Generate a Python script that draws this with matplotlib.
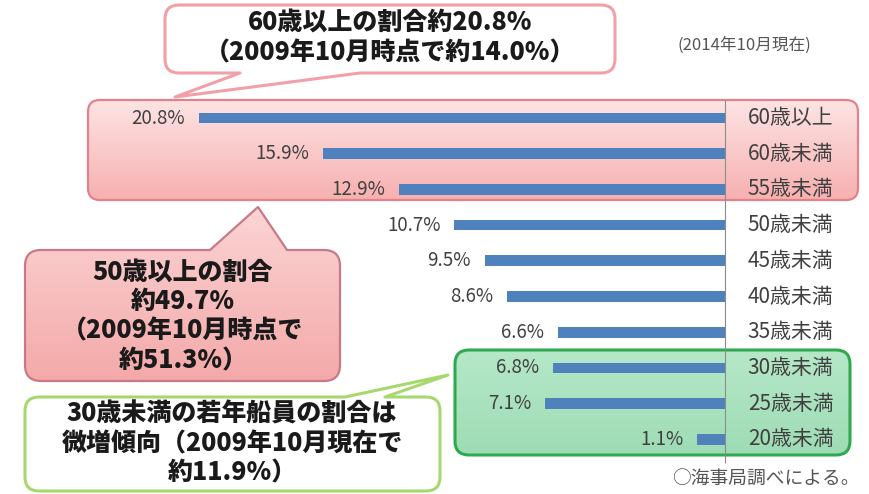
import numpy as np
import matplotlib
matplotlib.use("Agg")
import matplotlib.pyplot as plt
from matplotlib.path import Path
from matplotlib.patches import PathPatch
from matplotlib.colors import LinearSegmentedColormap

plt.rcParams['font.family'] = ['Noto Sans CJK JP', 'DejaVu Sans']

# data: share of seafarers by age group (2014年10月現在)
ages = ['60歳以上', '60歳未満', '55歳未満', '50歳未満', '45歳未満',
        '40歳未満', '35歳未満', '30歳未満', '25歳未満', '20歳未満']
shares = [20.8, 15.9, 12.9, 10.7, 9.5, 8.6, 6.6, 6.8, 7.1, 1.1]

W, H = 870, 494
fig = plt.figure(figsize=(8.7, 4.94), dpi=100)

# background layer in pixel coordinates for the boxes / callouts
bg = fig.add_axes([0, 0, 1, 1])
bg.set_xlim(0, W)
bg.set_ylim(H, 0)
bg.axis('off')


def bubble_path(x0, y0, x1, y1, r, tail=None, side='top'):
    """rounded rectangle, optionally with a speech tail on top or bottom edge"""
    M, L, C, Z = Path.MOVETO, Path.LINETO, Path.CURVE3, Path.CLOSEPOLY
    v = [(x0 + r, y0)]
    c = [M]
    if tail and side == 'top':
        v += tail
        c += [L] * len(tail)
    v += [(x1 - r, y0), (x1, y0), (x1, y0 + r), (x1, y1 - r), (x1, y1), (x1 - r, y1)]
    c += [L, C, C, L, C, C]
    if tail and side == 'bottom':
        v += tail
        c += [L] * len(tail)
    v += [(x0 + r, y1), (x0, y1), (x0, y1 - r), (x0, y0 + r), (x0, y0), (x0 + r, y0), (x0 + r, y0)]
    c += [L, C, C, L, C, C, Z]
    return Path(v, c)


def draw_bubble(path, face, edge, lw, grad=None, z=1):
    patch = PathPatch(path, fc=face, ec='none', zorder=z)
    bg.add_patch(patch)
    if grad is not None:
        ext = path.get_extents()
        cmap = LinearSegmentedColormap.from_list('g', grad)
        img = bg.imshow(np.linspace(0, 1, 100).reshape(-1, 1), cmap=cmap, aspect='auto',
                        extent=[ext.x0, ext.x1, ext.y1, ext.y0], zorder=z + 0.1,
                        interpolation='bilinear')
        img.set_clip_path(patch)
    bg.add_patch(PathPatch(path, fc='none', ec=edge, lw=lw, zorder=z + 0.2, joinstyle='round'))


# pink highlight band (50歳以上) and green band (30歳未満)
draw_bubble(bubble_path(88, 100, 858, 200, 12), '#fbcaca', '#e4818b', 1.6,
            grad=['#fde4e4', '#f7b0b0'])
draw_bubble(bubble_path(455, 350, 850, 455, 14), '#a9e2bf', '#2fa94f', 2.2,
            grad=['#b6e8c8', '#9edcb5'])

# callouts
draw_bubble(bubble_path(165, 5, 615, 73, 14, tail=[(360, 73), (175, 97), (240, 73)], side='bottom'),
            'white', '#f1a0a8', 2.2, z=3)
draw_bubble(bubble_path(25, 250, 340, 381, 16, tail=[(210, 250), (258, 207), (287, 250)]),
            '#f8c4c4', '#c77a86', 1.6, grad=['#fbd4d4', '#f4a9a9'], z=3)
draw_bubble(bubble_path(25, 397, 440, 491, 14, tail=[(345, 397), (448, 375), (385, 397)]),
            'white', '#a6d86e', 2.2, z=3)

txt = dict(ha='center', va='center', fontweight='black', color='#1a1a1a', zorder=5)
bg.text(390, 37, '60歳以上の割合約20.8%\n（2009年10月時点で約14.0%）',
        fontsize=18, linespacing=1.2, **txt)
bg.text(183, 316, '50歳以上の割合\n約49.7%\n（2009年10月時点で\n約51.3%）',
        fontsize=18, linespacing=1.16, **txt)
bg.text(232, 443, '30歳未満の若年船員の割合は\n微増傾向（2009年10月現在で\n約11.9%）',
        fontsize=18, linespacing=1.18, **txt)

bg.text(744, 45, '(2014年10月現在)', ha='center', va='center', fontsize=12, color='#555555')
bg.text(860, 478, '○海事局調べによる。', ha='right', va='center', fontsize=13.5, color='#555555')

# bar chart on top (bars grow to the left from the axis)
ax = fig.add_axes([0, 0, 1, 1])
ax.patch.set_alpha(0)
ax.axis('off')
ypos = np.arange(len(ages))
ax.barh(ypos, shares, height=0.3, color='#4f81bd', zorder=3)
ax.set_xlim(28.66, -5.73)
ax.set_ylim(10.53, -3.305)
ax.vlines(0, -0.5, 9.65, color='#8c8c8c', lw=0.8, zorder=2)

for y, v, lab in zip(ypos, shares, ages):
    ax.text(v + 0.55, y, f'{v}%', ha='right', va='center', fontsize=13.5, color='#404040')
    ax.text(-0.9, y, lab, ha='left', va='center', fontsize=15, color='#404040')

fig.savefig('out.png', dpi=100)
